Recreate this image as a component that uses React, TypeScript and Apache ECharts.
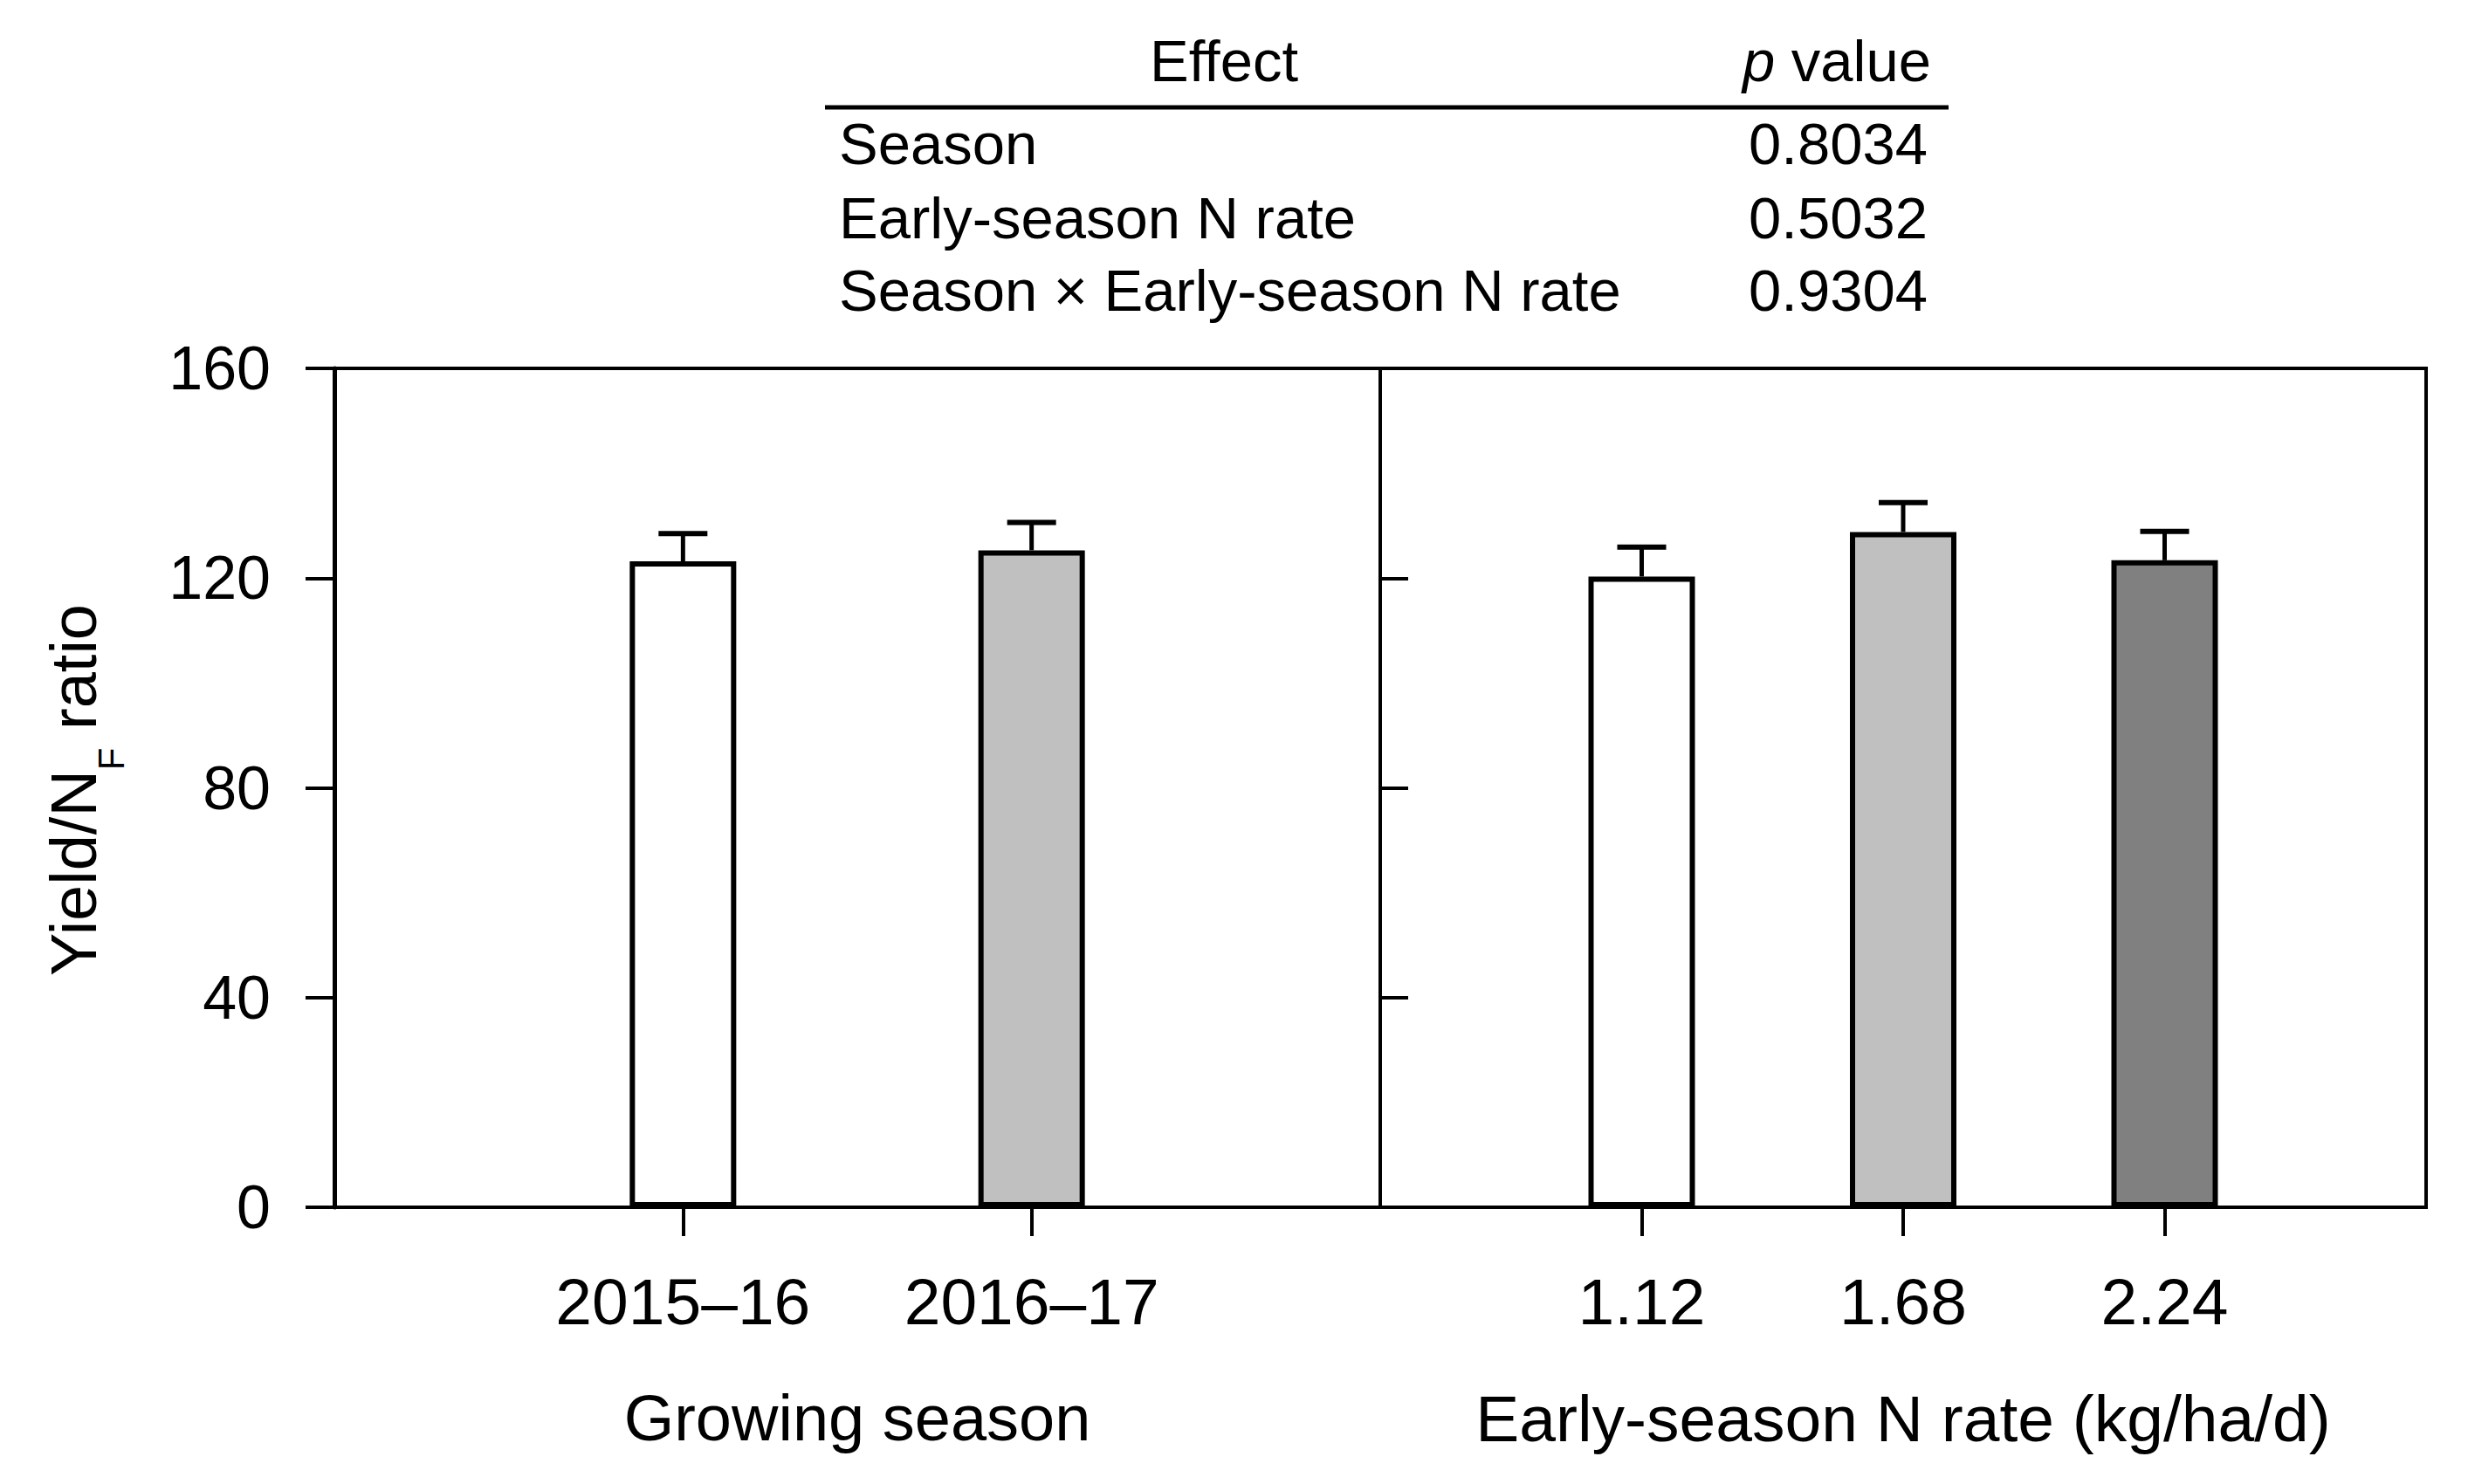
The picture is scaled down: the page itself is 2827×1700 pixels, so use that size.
import React, { useEffect, useRef } from "react";
import * as echarts from "echarts";

// ---- data ----
const seasonCategories = ["", "2015–16", "2016–17", ""];
const seasonMeans = [123.2, 125.3];
const seasonUpper = [128.5, 130.6];
const seasonColors = ["#ffffff", "#c0c0c0"];

const rateCategories = ["", "1.12", "1.68", "2.24", ""];
const rateMeans = [120.3, 128.8, 123.4];
const rateUpper = [125.9, 134.4, 128.9];
const rateColors = ["#ffffff", "#c0c0c0", "#808080"];

const yTicks = { min: 0, max: 160, interval: 40 };

const tableEffects = ["Season", "Early-season N rate", "Season × Early-season N rate"];
const tablePValues = ["0.8034", "0.5032", "0.9304"];

const FONT = "Liberation Sans, Arial, Helvetica, sans-serif";

function barData(cats: string[], means: number[], colors: string[]) {
  const real = cats.filter((c) => c !== "");
  return cats.map((c) => {
    if (c === "") return "-";
    const i = real.indexOf(c);
    return {
      value: means[i],
      itemStyle: { color: colors[i], borderColor: "#000", borderWidth: 6 },
    };
  });
}

function errData(cats: string[], means: number[], upper: number[]) {
  const real = cats.filter((c) => c !== "");
  return real.map((c, i) => [c, means[i], upper[i]]);
}

const renderErr = (params: any, api: any) => {
  const x = api.value(0);
  const top = api.coord([x, api.value(1)]);
  const hi = api.coord([x, api.value(2)]);
  const half = 28;
  return {
    type: "group",
    children: [
      {
        type: "line",
        shape: { x1: top[0], y1: top[1], x2: hi[0], y2: hi[1] },
        style: { stroke: "#000", lineWidth: 5 },
      },
      {
        type: "line",
        shape: { x1: hi[0] - half, y1: hi[1], x2: hi[0] + half, y2: hi[1] },
        style: { stroke: "#000", lineWidth: 6 },
      },
    ],
  };
};

export default function App() {
  const ref = useRef<HTMLDivElement>(null);

  useEffect(() => {
    if (!ref.current) return;
    const chart = echarts.init(ref.current, undefined, { renderer: "svg" });

    const showNonEmpty = (_i: number, v: string) => v !== "";

    const xAxisCommon = (data: string[], gridIndex: number, name: string, nameSize: number) => ({
      type: "category",
      gridIndex,
      data,
      boundaryGap: false,
      name,
      nameLocation: "middle",
      nameGap: 204,
      nameTextStyle: { fontFamily: FONT, fontSize: nameSize, color: "#000" },
      axisLine: { show: true, lineStyle: { color: "#000", width: 4 } },
      axisTick: { show: true, inside: false, length: 33, interval: showNonEmpty, lineStyle: { color: "#000", width: 4 } },
      axisLabel: { show: true, interval: showNonEmpty, margin: 70, fontFamily: FONT, fontSize: 75, color: "#000" },
      splitLine: { show: false },
    });

    const tableGraphics: any[] = [
      {
        type: "text",
        x: 1402,
        y: 69.5,
        style: { text: "Effect", fontFamily: FONT, fontSize: 67, fill: "#000", align: "center", verticalAlign: "middle" },
      },
      {
        type: "text",
        x: 2212,
        y: 69.5,
        style: {
          text: "{i|p}{n| value}",
          align: "right",
          verticalAlign: "middle",
          rich: {
            i: { fontFamily: FONT, fontSize: 67, fontStyle: "italic", fill: "#000" },
            n: { fontFamily: FONT, fontSize: 67, fill: "#000" },
          },
        },
      },
      {
        type: "line",
        shape: { x1: 945, y1: 123, x2: 2232, y2: 123 },
        style: { stroke: "#000", lineWidth: 5 },
      },
    ];
    const rowY = [164.5, 249.5, 332.5];
    tableEffects.forEach((t, i) => {
      tableGraphics.push({
        type: "text",
        x: 961,
        y: rowY[i],
        style: { text: t, fontFamily: FONT, fontSize: 67, fill: "#000", align: "left", verticalAlign: "middle" },
      });
      tableGraphics.push({
        type: "text",
        x: 2208,
        y: rowY[i],
        style: { text: tablePValues[i], fontFamily: FONT, fontSize: 67, fill: "#000", align: "right", verticalAlign: "middle" },
      });
    });

    const option: any = {
      animation: false,
      backgroundColor: "#ffffff",
      grid: [
        { left: 383, right: 2827 - 1581, top: 422, bottom: 1700 - 1383, show: true, borderColor: "#000", borderWidth: 4, backgroundColor: "transparent" },
        { left: 1581, right: 2827 - 2779, top: 422, bottom: 1700 - 1383, show: true, borderColor: "#000", borderWidth: 4, backgroundColor: "transparent" },
      ],
      xAxis: [
        xAxisCommon(seasonCategories, 0, "Growing season", 74),
        xAxisCommon(rateCategories, 1, "Early-season N rate (kg/ha/d)", 75),
      ],
      yAxis: [
        {
          type: "value",
          gridIndex: 0,
          min: yTicks.min,
          max: yTicks.max,
          interval: yTicks.interval,
          axisLine: { show: true, lineStyle: { color: "#000", width: 5 } },
          axisTick: { show: true, inside: false, length: 33, lineStyle: { color: "#000", width: 4 } },
          axisLabel: { show: true, margin: 73, fontFamily: FONT, fontSize: 70, color: "#000" },
          splitLine: { show: false },
        },
        {
          type: "value",
          gridIndex: 1,
          min: yTicks.min,
          max: yTicks.max,
          interval: yTicks.interval,
          axisLine: { show: true, lineStyle: { color: "#000", width: 4 } },
          axisTick: { show: true, inside: true, length: 32, lineStyle: { color: "#000", width: 4 } },
          axisLabel: { show: false },
          splitLine: { show: false },
        },
      ],
      series: [
        {
          type: "bar",
          xAxisIndex: 0,
          yAxisIndex: 0,
          barWidth: 122,
          data: barData(seasonCategories, seasonMeans, seasonColors),
        },
        {
          type: "custom",
          xAxisIndex: 0,
          yAxisIndex: 0,
          renderItem: renderErr,
          encode: { x: 0, y: [1, 2] },
          data: errData(seasonCategories, seasonMeans, seasonUpper),
          z: 5,
        },
        {
          type: "bar",
          xAxisIndex: 1,
          yAxisIndex: 1,
          barWidth: 122,
          data: barData(rateCategories, rateMeans, rateColors),
        },
        {
          type: "custom",
          xAxisIndex: 1,
          yAxisIndex: 1,
          renderItem: renderErr,
          encode: { x: 0, y: [1, 2] },
          data: errData(rateCategories, rateMeans, rateUpper),
          z: 5,
        },
      ],
      graphic: [
        {
          type: "text",
          x: 84,
          y: 905,
          rotation: Math.PI / 2,
          style: {
            text: "{a|Yield/N}{s|F}{a| ratio}",
            align: "center",
            verticalAlign: "middle",
            rich: {
              a: { fontFamily: FONT, fontSize: 74, lineHeight: 74, fill: "#000" },
              s: { fontFamily: FONT, fontSize: 42, lineHeight: 42, padding: [86, 0, 0, 0], fill: "#000" },
            },
          },
        },
        ...tableGraphics,
      ],
    };

    chart.setOption(option);
    return () => chart.dispose();
  }, []);

  return (
    <div
      ref={ref}
      style={{ position: "fixed", left: 0, top: 0, width: 2827, height: 1700, background: "#fff" }}
    />
  );
}
